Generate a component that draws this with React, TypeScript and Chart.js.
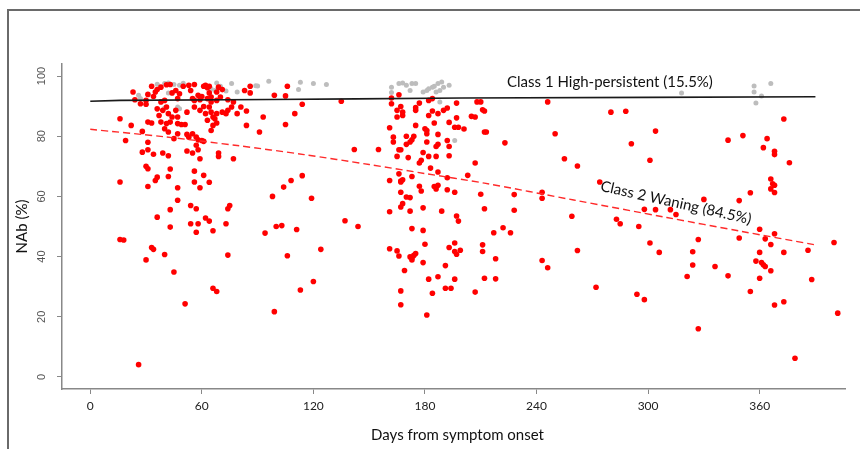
import React, { useEffect, useRef } from "react";
import { Chart, registerables } from "chart.js";

Chart.register(...registerables);

// ---- Data (days from symptom onset, NAb %) ----
const xTicks = [0, 60, 120, 180, 240, 300, 360];
const yTicks = [0, 20, 40, 60, 80, 100];

// Class 2 (waning) observations, red
const class2Points: [number, number][] = [
  [23,94.7],[33,96.6],[36,95.5],[38,96.3],[41,97.1],[43,97.2],[46,95.2],[50,96.6],[53,96.9],[56,97.2],
  [61,96.6],[63,96.1],[62,96.9],[64,96.6],[69,96.3],[71,95.5],[31,93.9],[34,93.2],[35,94.7],[44,94.4],
  [48,94.1],[54,95.2],[58,93.6],[60,93.2],[64,94.4],[68,94.7],[65,93.0],[24,92.1],[27,90.8],[30,91.9],
  [30,90.6],[38,91.4],[40,91.9],[47,92.5],[55,92.5],[56,91.9],[59,92.1],[63,92.5],[65,91.4],[68,91.9],
  [70,93.0],[74,92.1],[77,91.4],[16,85.8],[22,83.6],[36,89.1],[37,86.9],[39,88.6],[41,89.7],[42,87.5],
  [44,86.4],[47,86.4],[47,84.2],[51,83.9],[49,83.9],[38,84.7],[41,84.2],[43,84.7],[46,88.6],[52,88.0],
  [56,89.7],[59,88.6],[61,89.9],[62,87.5],[63,85.3],[64,89.7],[65,88.0],[66,86.4],[67,85.8],[68,87.5],
  [68,84.4],[66,83.6],[65,81.9],[71,88.0],[73,87.5],[74,88.6],[76,89.7],[79,87.5],[31,84.7],[33,84.4],
  [40,82.5],[42,81.4],[47,80.8],[28,81.6],[19,78.6],[31,78.0],[45,79.2],[52,80.6],[53,79.7],[55,80.8],
  [57,79.7],[58,78.8],[60,78.6],[61,78.3],[57,77.0],[58,75.5],[28,74.7],[31,75.5],[34,74.0],[39,74.4],
  [42,73.5],[52,75.1],[55,74.4],[59,72.5],[69,74.4],[69,73.3],[77,72.5],[30,70.0],[31,69.2],[43,69.1],
  [56,68.4],[16,64.8],[35,65.3],[36,66.4],[42,66.6],[47,62.9],[56,64.8],[59,62.9],[61,67.0],[64,64.7],
  [31,63.3],[47,58.7],[43,55.6],[54,57.0],[57,55.9],[36,53.1],[62,52.8],[64,51.8],[54,50.9],[43,49.8],
  [74,55.9],[75,57.0],[73,50.9],[58,50.9],
  [57,48.1],[66,48.6],[16,45.7],[18,45.5],[33,43.0],[34,42.4],[40,40.7],[30,38.9],[74,40.5],[45,34.9],
  [66,29.5],[68,28.4],[51,24.3],[26,4.1],
  [83,95.2],[86,96.6],[86,94.4],[81,89.7],[84,88.4],[93,86.4],[84,83.6],[91,81.4],[99,93.6],[106,96.6],
  [105,93.4],[114,90.6],[110,87.5],[105,83.9],[135,91.6],[142,75.6],[114,66.9],[108,65.3],[104,63.1],[98,60.0],
  [119,59.4],[137,51.9],[144,50.0],[100,50.0],[103,50.3],[94,47.8],[111,49.0],[124,42.4],[106,40.3],[120,31.7],
  [113,28.9],[99,21.7],
  [162,92.7],[166,93.8],[162,90.8],[165,88.6],[167,89.9],[168,88.0],[168,86.9],[165,86.4],[175,88.6],[175,89.5],
  [177,91.0],[182,91.9],[184,92.5],[184,88.4],[182,86.9],[187,87.5],[190,88.6],[192,89.4],[197,91.0],[197,86.1],
  [193,84.6],[198,83.0],[196,83.0],[201,82.4],[205,86.6],[207,86.4],[208,91.4],[210,91.4],[212,81.4],[161,82.8],
  [175,83.6],[180,82.5],[181,80.8],[181,81.9],[185,84.4],[187,80.6],[163,79.7],[163,78.1],[170,80.0],[174,80.0],
  [173,78.8],[172,78.1],[170,77.3],[167,75.5],[166,75.5],[155,75.6],[181,78.1],[186,76.6],[187,77.3],[192,78.6],
  [193,76.6],[179,74.6],[182,73.3],[186,73.3],[165,73.3],[171,72.9],[178,72.0],[177,71.1],[193,73.5],[207,71.1],
  [183,69.4],[187,68.1],[166,67.5],[173,66.6],[161,65.3],[167,65.1],[168,65.5],[167,64.8],[192,66.2],[203,67.0],
  [177,63.4],[178,61.8],[185,63.3],[187,63.7],[186,62.5],[192,62.2],[196,61.4],[167,61.4],[170,59.8],[172,59.6],
  [210,60.7],[168,57.6],[167,56.5],[179,56.2],[172,55.1],[161,54.9],[189,55.1],[197,53.5],[198,51.8],[212,55.9],
  [173,49.3],
  [179,48.7],[161,42.6],[165,41.9],[166,40.2],[172,39.9],[173,39.5],[174,40.4],[175,41.0],[173,38.9],[180,44.1],
  [179,38.0],[193,43.0],[196,44.5],[196,41.7],[197,40.8],[199,42.1],[211,43.9],[211,41.7],[191,37.0],[169,35.4],
  [182,32.5],[187,33.3],[196,32.5],[212,32.8],[167,28.6],[184,27.8],[191,29.5],[194,29.5],[207,28.2],[167,24.0],
  [181,20.6],
  [211,88.8],[212,88.4],[213,81.4],[223,77.8],[246,91.4],[250,80.8],[255,72.5],[262,70.1],[280,88.0],[288,88.3],
  [304,81.7],[291,77.5],[301,72.0],[274,64.8],[228,60.6],[243,61.4],[243,59.4],[228,55.4],[259,53.4],[283,52.4],
  [285,50.9],[295,50.0],[298,55.7],[304,55.6],[222,49.6],[226,47.9],[217,47.9],[218,39.3],[243,38.7],[246,36.3],
  [262,42.0],[301,44.5],[306,41.4],[218,32.6],[272,29.8],[294,27.5],[298,25.7],
  [373,85.7],[343,78.7],[351,80.2],[364,79.2],[362,76.2],[368,75.0],[368,73.9],[376,71.2],[366,65.8],[367,64.2],
  [368,63.7],[366,62.5],[368,61.3],[355,61.2],[349,58.6],[330,59.0],[312,55.6],[315,54.0],[360,49.1],[368,47.6],
  [363,45.9],[366,44.0],[349,46.2],[327,45.7],[324,41.6],[324,37.2],[321,33.4],[336,36.7],[343,33.6],[360,41.4],
  [358,38.5],[361,38.0],[362,37.3],[363,36.7],[366,35.3],[360,32.8],[373,41.4],[386,42.1],[400,44.7],[388,32.4],
  [355,28.4],[368,23.9],[373,25.0],[402,21.2],[327,16.0],[379,6.2],
];

// Class 1 (high-persistent) observations, grey
const class1Points: [number, number][] = [
  [26,93.6],[27,92.5],[40,97.5],[42,97.7],[45,97.2],[42,94.4],[47,89.7],[48,89.1],[68,97.7],[70,96.6],
  [76,97.5],[79,94.7],[67,95.2],[65,95.8],[73,95.0],[48,96.9],[36,97.3],[50,97.6],[40,89.4],
  [90,96.7],[96,98.3],[113,97.9],[112,95.5],[120,97.5],[127,97.2],[89,96.8],
  [162,96.3],[162,94.5],[166,97.5],[168,97.7],[170,96.9],[173,97.5],[175,97.5],[172,95.2],[179,94.7],[182,95.8],
  [184,96.3],[185,96.6],[187,97.5],[189,98.0],[190,96.3],[193,96.9],[186,94.7],[188,95.2],[188,91.4],[196,78.6],
  [181,95.2],
  [318,94.4],[357,96.7],[357,94.7],[366,97.5],[361,93.4],[358,91.0],
];

// Fitted class trajectories
const class1CurveDays = [0, 16, 96, 143, 200, 300, 390];
const class1CurveNAb = [91.6, 91.9, 92.2, 92.4, 92.7, 92.9, 93.1];
const class2CurveDays = [0, 40, 79, 115, 150, 180, 212, 260, 310, 350, 390];
const class2CurveNAb = [82.3, 79.8, 76.9, 73.9, 70.6, 67.6, 64.4, 58.8, 53.0, 48.4, 43.9];

const toXY = (pts: [number, number][]) => pts.map(([x, y]) => ({ x, y }));
const zipXY = (xs: number[], ys: number[]) => xs.map((x, i) => ({ x, y: ys[i] }));

const overlayPlugin = {
  id: "overlay",
  afterDraw(chart: any) {
    const { ctx, scales } = chart;
    const xs = scales.x;
    const ys = scales.y;
    ctx.save();
    // y tick labels (rotated)
    ctx.fillStyle = "#555";
    ctx.font = "11px 'Liberation Sans', Arial, sans-serif";
    ctx.textAlign = "center";
    ctx.textBaseline = "middle";
    yTicks.forEach((v) => {
      ctx.save();
      ctx.translate(42, ys.getPixelForValue(v));
      ctx.rotate(-Math.PI / 2);
      ctx.fillText(String(v), 0, 0);
      ctx.restore();
    });
    // axis titles
    ctx.fillStyle = "#111";
    ctx.font = "15px Lato, 'Open Sans', sans-serif";
    ctx.fillText("Days from symptom onset", (xs.left + xs.right) / 2 + 4, 435);
    ctx.save();
    ctx.translate(22, (ys.top + ys.bottom) / 2 + 0);
    ctx.rotate(-Math.PI / 2);
    ctx.fillText("NAb (%)", 0, 0);
    ctx.restore();
    // class labels
    ctx.font = "15px Lato, 'Open Sans', sans-serif";
    ctx.fillText("Class 1 High-persistent (15.5%)", xs.getPixelForValue(279.5), ys.getPixelForValue(98.1));
    ctx.save();
    ctx.translate(xs.getPixelForValue(315), ys.getPixelForValue(57.9));
    ctx.rotate((12.6 * Math.PI) / 180);
    ctx.fillText("Class 2 Waning (84.5%)", 0, 0);
    ctx.restore();
    ctx.restore();
  },
};

export default function App() {
  const ref = useRef<HTMLCanvasElement>(null);
  useEffect(() => {
    if (!ref.current) return;
    const chart = new Chart(ref.current, {
      type: "scatter",
      data: {
        datasets: [
          {
            type: "line",
            label: "Class 1 fit",
            data: zipXY(class1CurveDays, class1CurveNAb),
            borderColor: "#1a1a1a",
            borderWidth: 1.6,
            pointRadius: 0,
            showLine: true,
            fill: false,
            tension: 0,
          },
          {
            type: "line",
            label: "Class 2 fit",
            data: zipXY(class2CurveDays, class2CurveNAb),
            borderColor: "#ff2a2a",
            borderWidth: 1.4,
            borderDash: [7, 4],
            pointRadius: 0,
            showLine: true,
            fill: false,
            tension: 0.3,
          },
          {
            label: "Class 2",
            data: toXY(class2Points),
            backgroundColor: "#ff0000",
            borderWidth: 0,
            pointRadius: 2.8,
          },
          {
            label: "Class 1",
            data: toXY(class1Points),
            backgroundColor: "#bdbdbd",
            borderWidth: 0,
            pointRadius: 2.5,
          },
        ],
      },
      options: {
        animation: false,
        responsive: false,
        layout: { padding: { left: 0, top: 64, right: 15, bottom: 0 } },
        plugins: { legend: { display: false }, tooltip: { enabled: false } },
        scales: {
          x: {
            type: "linear",
            min: -15.2,
            max: 405.9,
            afterBuildTicks: (s: any) => {
              s.ticks = xTicks.map((v) => ({ value: v }));
            },
            afterFit: (s: any) => {
              s.height = 60;
            },
            grid: { display: true, drawOnChartArea: false, drawTicks: true, tickLength: 5, color: "#888", lineWidth: 1 },
            border: { display: true, color: "#888", width: 1.5 },
            ticks: {
              font: { family: "Lato, 'Open Sans', sans-serif", size: 12 },
              color: "#222",
              padding: 5,
              maxRotation: 0,
              minRotation: 0,
              autoSkip: false,
            },
          },
          y: {
            type: "linear",
            min: -4,
            max: 104,
            afterBuildTicks: (s: any) => {
              s.ticks = yTicks.map((v) => ({ value: v }));
            },
            afterFit: (s: any) => {
              s.width = 62;
            },
            grid: { display: true, drawOnChartArea: false, drawTicks: true, tickLength: 5, color: "#888", lineWidth: 1 },
            border: { display: true, color: "#888", width: 1.5 },
            ticks: { display: false },
          },
        },
      },
      plugins: [overlayPlugin],
    });
    return () => chart.destroy();
  }, []);
  return (
    <div style={{ position: "absolute", left: 0, top: 0, width: 860, height: 449, overflow: "hidden", background: "#fff" }}>
      <div
        style={{
          position: "absolute",
          left: 7,
          top: 9,
          width: 900,
          height: 500,
          borderLeft: "2px solid #6a6a6a",
          borderTop: "2px solid #6a6a6a",
        }}
      />
      <canvas ref={ref} width={860} height={449} style={{ position: "absolute", left: 0, top: 0 }} />
    </div>
  );
}
